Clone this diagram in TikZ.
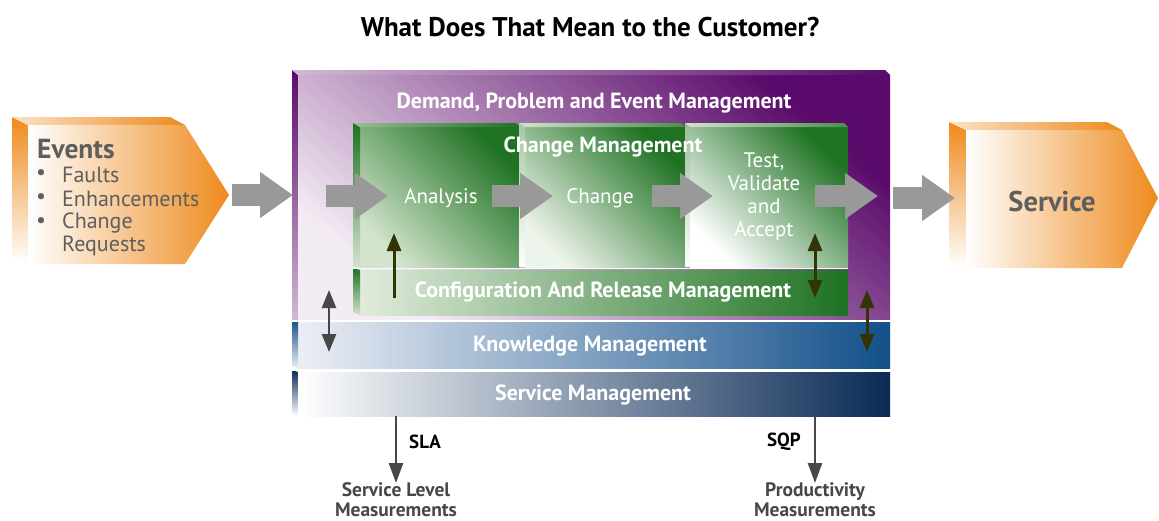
\documentclass[tikz,border=0pt]{standalone}
\usepackage{fontspec}
\setmainfont{PT Sans}
\usetikzlibrary{arrows.meta}
\definecolor{orng}{HTML}{EE8A1C}
\definecolor{txtgray}{HTML}{5E5E5E}
\definecolor{arrgray}{HTML}{999999}
\definecolor{purpdark}{HTML}{5A0A6A}
\definecolor{purpmid}{HTML}{9A6CA2}
\definecolor{purplight}{HTML}{F4ECF4}
\definecolor{grndark}{HTML}{1E7222}
\definecolor{grnmid}{HTML}{70A068}
\definecolor{grnlight}{HTML}{D3E3CC}
\definecolor{bluedark}{HTML}{12508A}
\definecolor{bluemid}{HTML}{8B9BC0}
\definecolor{bluelight}{HTML}{ECEEF5}
\definecolor{navy}{HTML}{0A2A55}
\definecolor{navymid}{HTML}{7C88AA}
\definecolor{olive}{HTML}{333308}
\definecolor{darkgray}{HTML}{474747}
\begin{document}
\begin{tikzpicture}[x=1pt,y=-1pt,
  wtxt/.style={font=\fontsize{21}{23}\selectfont, text=white, inner sep=0pt, align=center},
  bwtxt/.style={font=\bfseries\fontsize{22}{24}\selectfont, text=white, inner sep=0pt, align=center},
  evtxt/.style={font=\fontsize{22}{23}\selectfont, text=txtgray, inner sep=0pt, anchor=west},
  meastxt/.style={font=\bfseries\fontsize{19.5}{20}\selectfont, text=darkgray, inner sep=0pt, align=center},
  blk/.style={draw=arrgray, line width=22pt, -{Triangle[width=44pt,length=33pt]}},
  darkarrow/.style={draw=olive, line width=3pt, -{Triangle[width=14pt,length=18pt]}},
  darkdbl/.style={draw=olive, line width=3pt, {Triangle[width=14pt,length=18pt]}-{Triangle[width=14pt,length=18pt]}},
  graydbl/.style={draw=darkgray, line width=2.5pt, {Triangle[width=14pt,length=18pt]}-{Triangle[width=14pt,length=18pt]}},
  measarrow/.style={draw=darkgray, line width=2.5pt, -{Triangle[width=14pt,length=20pt]}},
]
\useasboundingbox (0,0) rectangle (1159,520);

% Title
\node[font=\bfseries\fontsize{27}{30}\selectfont, inner sep=0pt] (title) at (590,27) {What Does That Mean to the Customer?};

% ---------- Events shape ----------
\shade[top color=orng, bottom color=white] (12,117) -- (28,125) -- (28,264) -- (12,257) -- cycle;
\shade[left color=orng!25, right color=orng] (12,117) -- (170,117) -- (185,125) -- (28,125) -- cycle;
\shade[left color=white, middle color=orng!45, right color=orng] (28,125) -- (185,125) -- (229,195) -- (185,264) -- (28,264) -- cycle;
\coordinate (evtip) at (229,195);
\node[font=\bfseries\fontsize{27.5}{30}\selectfont, text=txtgray, inner sep=0pt, anchor=west] (events) at (37,149) {Events};
\node[evtxt] (b1) at (36,175) {•};
\node[evtxt] (faults) at (62,175) {Faults};
\node[evtxt] (b2) at (36,199) {•};
\node[evtxt] (enh) at (62,199) {Enhancements};
\node[evtxt] (b3) at (36,223) {•};
\node[evtxt] (chg) at (62,223) {Change};
\node[evtxt] (req) at (62,246) {Requests};

% ---------- Service shape ----------
\shade[top color=orng, bottom color=white] (949,122) -- (966,130) -- (966,268) -- (949,262) -- cycle;
\shade[left color=orng!25, right color=orng] (949,122) -- (1107,122) -- (1122,130) -- (966,130) -- cycle;
\shade[left color=white, middle color=orng!45, right color=orng] (966,130) -- (1122,130) -- (1158,198) -- (1122,268) -- (966,268) -- cycle;
\coordinate (svcin) at (955,198);
\node[font=\bfseries\fontsize{28.5}{30}\selectfont, text=txtgray, inner sep=0pt] (service) at (1052,202) {Service};

% ---------- Purple box ----------
\shade[bottom color=purplight, middle color=purpmid, top color=purpdark, shading angle=-40] (298,75) rectangle (890,320);
\shade[top color=purpdark, bottom color=purplight!60!purpmid] (292,70) -- (298,75) -- (298,320) -- (292,320) -- cycle;
\shade[left color=purplight!60!purpmid, right color=purpdark] (292,70) -- (885,70) -- (890,75) -- (298,75) -- cycle;
\coordinate (dpemin) at (293,195);
\coordinate (dpemout) at (893,198);
\node[bwtxt] (dpem) at (594,103) {Demand, Problem and Event Management};

% ---------- Knowledge / Service management bars ----------
\shade[left color=bluelight, middle color=bluemid, right color=bluedark] (298,322) rectangle (890,368);
\shade[top color=bluedark, bottom color=bluelight] (292,320) -- (298,322) -- (298,368) -- (292,366) -- cycle;
\draw[white, line width=1.2pt] (292,321) -- (890,321);
\node[bwtxt] (km) at (590,346) {Knowledge Management};
\shade[left color=white, middle color=navymid, right color=navy] (298,372) rectangle (890,416);
\shade[top color=navy, bottom color=white] (292,370) -- (298,372) -- (298,416) -- (292,414) -- cycle;
\draw[white, line width=1.2pt] (292,370) -- (890,370);
\node[bwtxt] (sm) at (593,395) {Service Management};

% ---------- Green cubes ----------
% Analysis
\shade[bottom color=grnlight, middle color=grnmid, top color=grndark, shading angle=-45] (360,127) rectangle (520,267);
\shade[top color=grndark, bottom color=grnlight] (353,123) -- (360,127) -- (360,267) -- (353,267) -- cycle;
\shade[left color=grnmid!70, right color=grndark] (353,123) -- (516,123) -- (520,127) -- (360,127) -- cycle;
% Change
\shade[bottom color=grnlight!40!white, middle color=grnmid!90, top color=grndark, shading angle=-45] (525,127) rectangle (685,267);
\shade[top color=grnmid!60, bottom color=white] (519,123) -- (525,127) -- (525,267) -- (519,267) -- cycle;
\shade[left color=grnlight, right color=grndark!80] (519,123) -- (681,123) -- (685,127) -- (525,127) -- cycle;
% Test
\shade[bottom color=white, middle color=grnmid!85, top color=grndark, shading angle=-45] (690,127) rectangle (848,267);
\shade[top color=grnmid!70, bottom color=white] (685,123) -- (690,127) -- (690,267) -- (685,267) -- cycle;
\shade[left color=grnlight, right color=grndark!80] (685,123) -- (844,123) -- (848,127) -- (690,127) -- cycle;
% Configuration bar
\shade[left color=grnlight!70!white, middle color=grnmid!80, right color=grndark] (360,270) rectangle (848,315);
\shade[top color=grndark, bottom color=grnlight] (353,268) -- (360,270) -- (360,315) -- (353,312) -- cycle;
\draw[white!85!grnlight, line width=1.5pt] (353,268.5) -- (848,268.5);

\node[bwtxt] (cm) at (603,147) {Change Management};
\node[wtxt] (analysis) at (441,198) {Analysis};
\node[wtxt] (change) at (600,198) {Change};
\node[wtxt] (test) at (764,197) {Test,\\Validate\\and\\Accept};
\node[bwtxt] (crm) at (603,292) {Configuration And Release Management};

% ---------- Gray block arrows ----------
\coordinate (a2s) at (326,196);
\coordinate (a2e) at (388,196);
\coordinate (a3s) at (492,196);
\coordinate (a3e) at (553,196);
\coordinate (a4s) at (652,196);
\coordinate (a4e) at (713,196);
\coordinate (a5s) at (815,196);
\coordinate (a5e) at (878,196);
\draw[blk] ([xshift=3pt]evtip) -- (dpemin);
\draw[blk] (a2s) -- (a2e);
\draw[blk] (a3s) -- (a3e);
\draw[blk] (a4s) -- (a4e);
\draw[blk] (a5s) -- (a5e);
\draw[blk] (dpemout) -- (svcin);

% ---------- Dark arrows ----------
\coordinate (crmA) at (394,298);
\coordinate (anaB) at (394,233);
\draw[darkarrow] (crmA) -- (anaB);
\coordinate (crmT) at (815,298);
\coordinate (testB) at (815,233);
\draw[darkdbl] (crmT) -- (testB);
\coordinate (kmR) at (867,352);
\coordinate (dpemR) at (867,290);
\draw[darkdbl] (dpemR) -- (kmR);
\coordinate (kmL) at (329,352);
\coordinate (dpemL) at (329,290);
\draw[graydbl] (dpemL) -- (kmL);

% ---------- Measurements ----------
\coordinate (slaS) at (396,416);
\coordinate (slaE) at (396,483);
\coordinate (sqpS) at (815,416);
\coordinate (sqpE) at (815,483);
\draw[measarrow] (slaS) -- (slaE);
\draw[measarrow] (sqpS) -- (sqpE);
\node[font=\bfseries\fontsize{19}{20}\selectfont, inner sep=0pt] (sla) at (425,442) {SLA};
\node[font=\bfseries\fontsize{19}{20}\selectfont, inner sep=0pt] (sqp) at (784,442) {SQP};
\node[meastxt] (slm) at (396,500) {Service Level\\Measurements};
\node[meastxt] (pm) at (815,500) {Productivity\\Measurements};
\end{tikzpicture}
\end{document}
